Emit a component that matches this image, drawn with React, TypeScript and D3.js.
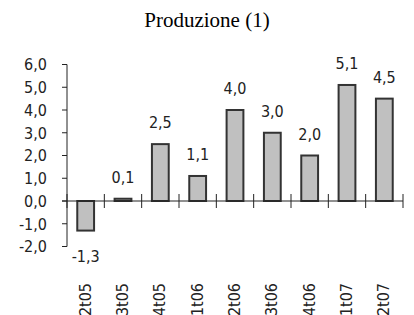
import React from "react";
import * as d3 from "d3";

const categories = ["2t05", "3t05", "4t05", "1t06", "2t06", "3t06", "4t06", "1t07", "2t07"];
const values = [-1.3, 0.1, 2.5, 1.1, 4.0, 3.0, 2.0, 5.1, 4.5];
const yTicks = [-2, -1, 0, 1, 2, 3, 4, 5, 6];

const width = 414;
const height = 315;
const fmt = (v: number) => v.toFixed(1).replace(".", ",");
const font = "'DejaVu Sans Condensed', 'Liberation Sans Narrow', sans-serif";

const App: React.FC = () => {
  const x = d3.scaleBand<string>().domain(categories).range([67, 403]).paddingInner(0).paddingOuter(0);
  const y = d3.scaleLinear().domain([-2, 6]).range([246.5, 64.5]);
  const barW = x.bandwidth() * 0.45;
  const y0 = y(0);
  const boundaries = d3.range(categories.length + 1).map((i) => 67 + i * x.step());

  return (
    <svg width={width} height={height} style={{ position: "absolute", left: 0, top: 0, background: "#fff" }}>
      <text
        x={207}
        y={27}
        textAnchor="middle"
        fontFamily="'Liberation Serif', 'Times New Roman', serif"
        fontSize={21}
      >
        Produzione (1)
      </text>

      {/* y axis */}
      <line x1={67} x2={67} y1={y(6)} y2={y(-2)} stroke="#222" strokeWidth={1} />
      {yTicks.map((t) => (
        <g key={t}>
          <line x1={62} x2={67} y1={y(t)} y2={y(t)} stroke="#222" />
          <text x={47} y={y(t)} dy="0.36em" textAnchor="end" fontFamily={font} fontSize={16} fill="#222">
            {fmt(t)}
          </text>
        </g>
      ))}

      {/* bars */}
      {categories.map((c, i) => {
        const v = values[i];
        const cx = x(c)! + x.bandwidth() / 2;
        const top = Math.min(y(v), y0);
        const h = Math.max(Math.abs(y(v) - y0), 1);
        return (
          <g key={c}>
            <rect x={cx - barW / 2} y={top} width={barW} height={h} fill="#c0c0c0" stroke="#333" strokeWidth={2} />
            <text
              x={cx}
              y={v >= 0 ? y(v) - 16 : y(v) + 31}
              textAnchor="middle"
              fontFamily={font}
              fontSize={16}
              fill="#222"
            >
              {fmt(v)}
            </text>
            <text
              transform={`translate(${cx + 5},283) rotate(-90)`}
              textAnchor="end"
              fontFamily={font}
              fontSize={16}
              fill="#222"
            >
              {c}
            </text>
          </g>
        );
      })}

      {/* x axis */}
      <line x1={62} x2={403} y1={y0} y2={y0} stroke="#222" strokeWidth={1} />
      {boundaries.map((b, i) => (
        <line key={i} x1={b} x2={b} y1={y0 - 7} y2={y0 + 7} stroke="#222" />
      ))}
    </svg>
  );
};

export default App;
